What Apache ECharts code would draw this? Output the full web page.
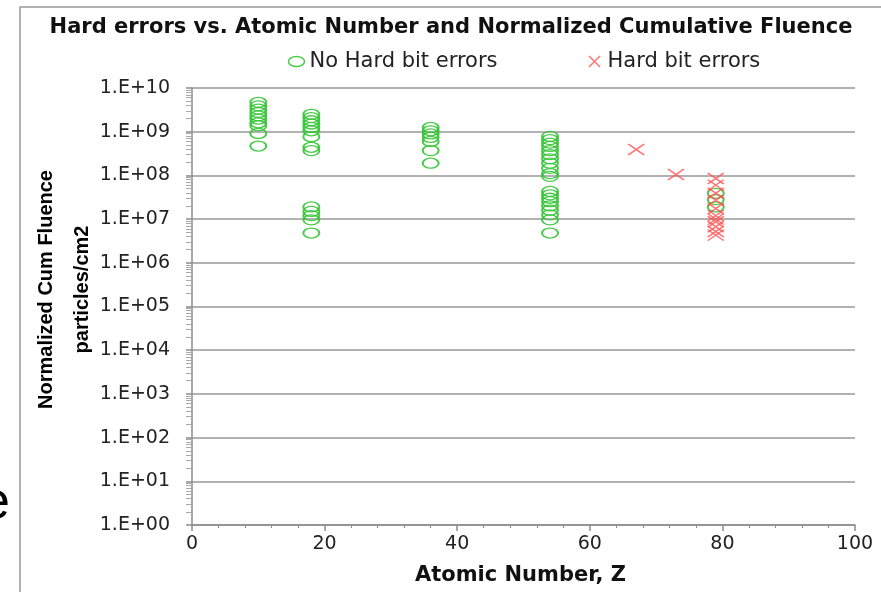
<!DOCTYPE html>
<html>
<head>
<meta charset="utf-8">
<script src="https://cdn.jsdelivr.net/npm/echarts@6/dist/echarts.min.js"></script>
<style>
html,body{margin:0;padding:0;background:#fff;}
#chart{width:881px;height:592px;}
</style>
</head>
<body>
<div id="chart"></div>
<script>
// ---- data ----
const chartTitle = 'Hard errors vs. Atomic Number and Normalized Cumulative Fluence';
const seriesNames = ['No Hard bit errors', 'Hard bit errors'];
const xAxisName = 'Atomic Number, Z';
const yAxisName = 'Normalized Cum Fluence\nparticles/cm2';
const yTickLabels = ['1.E+00','1.E+01','1.E+02','1.E+03','1.E+04','1.E+05','1.E+06','1.E+07','1.E+08','1.E+09','1.E+10'];

// No hard bit errors: atomic number and fluence values
const noHardZ = [10, 18, 36, 54, 79];
const noHardZ10 = [4.7e9, 3.9e9, 3.3e9, 2.75e9, 2.3e9, 1.95e9, 1.6e9, 1.37e9, 9.1e8, 4.7e8];
const noHardZ18 = [2.5e9, 2.1e9, 1.78e9, 1.5e9, 1.25e9, 1.05e9, 7.7e8, 4.4e8, 3.7e8, 1.9e7, 1.5e7, 1.2e7, 9.6e6, 4.8e6];
const noHardZ36 = [1.25e9, 1.05e9, 8.9e8, 7.4e8, 6.0e8, 3.7e8, 1.9e8];
const noHardZ54 = [7.8e8, 6.6e8, 5.5e8, 4.6e8, 3.7e8, 3.0e8, 2.4e8, 1.9e8, 1.45e8, 1.1e8, 9.5e7,
                   4.3e7, 3.6e7, 3.0e7, 2.5e7, 2.0e7, 1.6e7, 1.25e7, 9.6e6, 4.8e6];
const noHardZ79 = [3.9e7, 2.8e7, 1.9e7];

// Hard bit errors
const hardZ = [67, 73, 79];
const hardZ67 = [3.9e8];
const hardZ73 = [1.05e8];
const hardZ79 = [8.5e7, 6.0e7, 3.9e7, 2.7e7, 1.75e7, 1.2e7, 1.0e7, 8.7e6, 6.7e6, 5.2e6, 4.3e6];

function pairs(z, vals) { return vals.map(v => [z, v]); }
const noHardData = [].concat(
  pairs(noHardZ[0], noHardZ10), pairs(noHardZ[1], noHardZ18), pairs(noHardZ[2], noHardZ36),
  pairs(noHardZ[3], noHardZ54), pairs(noHardZ[4], noHardZ79));
const hardData = [].concat(pairs(hardZ[0], hardZ67), pairs(hardZ[1], hardZ73), pairs(hardZ[2], hardZ79));

const GREEN = '#33c433';
const RED = '#ff5252';
const XPATH = 'path://M0,0L10,10M10,0L0,10';
const OPATH = 'path://M0,5A8,5 0 1,0 16,5A8,5 0 1,0 0,5Z';

const chart = echarts.init(document.getElementById('chart'), null, {renderer: 'canvas'});
chart.setOption({
  animation: false,
  backgroundColor: '#fff',
  title: {
    text: chartTitle,
    left: 446, top: 12, textAlign: 'center',
    textStyle: {fontFamily: 'DejaVu Sans', fontWeight: 'bold', fontSize: 21, color: '#111'}
  },
  legend: {
    left: 281, top: 46,
    itemWidth: 16, itemHeight: 11, itemGap: 89,
    textStyle: {fontFamily: 'DejaVu Sans', fontSize: 21, color: '#222'},
    data: [
      {name: seriesNames[0], icon: OPATH, itemStyle: {color: 'none', borderColor: GREEN, borderWidth: 1.5}},
      {name: seriesNames[1], icon: XPATH, itemStyle: {color: 'none', borderColor: RED, borderWidth: 1.5}}
    ]
  },
  grid: {left: 192, right: 26, top: 88, bottom: 67, containLabel: false},
  xAxis: {
    type: 'value', min: 0, max: 100, interval: 20,
    name: xAxisName, nameLocation: 'middle', nameGap: 40, nameMoveOverlap: false,
    nameTextStyle: {fontFamily: 'DejaVu Sans', fontWeight: 'bold', fontSize: 21, color: '#111', padding: [0,6,0,0]},
    axisLine: {show: true, lineStyle: {color: '#8c8c8c', width: 1.5}},
    axisTick: {show: true, length: 6, lineStyle: {color: '#8c8c8c', width: 1.5}},
    minorTick: {show: true, splitNumber: 5, length: 3, lineStyle: {color: '#8c8c8c'}},
    axisLabel: {fontFamily: 'DejaVu Sans', fontSize: 19, color: '#222', margin: 10},
    splitLine: {show: false}
  },
  yAxis: {
    type: 'log', logBase: 10, min: 1, max: 1e10, interval: 1,
    name: yAxisName, nameLocation: 'middle', nameGap: 92, nameMoveOverlap: false,
    nameTextStyle: {fontFamily: "'Liberation Sans', sans-serif",
      fontWeight: 'bold', fontSize: 20, color: '#000', lineHeight: 36, align: 'center', padding: [0,0,0,34]},
    axisLine: {show: true, lineStyle: {color: '#8c8c8c', width: 1.5}},
    axisTick: {show: true, length: 6, lineStyle: {color: '#8c8c8c', width: 1.5}},
    minorTick: {show: true, splitNumber: 9, length: 6, lineStyle: {color: '#aaa'}},
    axisLabel: {
      fontFamily: 'DejaVu Sans', fontSize: 19, color: '#222', margin: 22,
      formatter: function (v) { const e = Math.round(Math.log10(v)); return yTickLabels[e] || ''; }
    },
    splitLine: {show: true, lineStyle: {color: '#999', width: 1.5}}
  },
  graphic: [
    {type: 'rect', shape: {x: 20, y: 7, width: 900, height: 620}, style: {fill: 'none', stroke: '#999', lineWidth: 1.5}, silent: true},
    {type: 'text', x: -19, y: 504, style: {text: 'e', font: '52px "Liberation Sans"', fill: '#000', verticalAlign: 'middle'}, silent: true}
  ],
  series: [
    {
      name: seriesNames[0], type: 'scatter', data: noHardData,
      symbol: 'circle', symbolSize: [16, 10],
      itemStyle: {color: 'none', borderColor: GREEN, borderWidth: 1.6, opacity: 0.9},
      z: 2
    },
    {
      name: seriesNames[1], type: 'scatter', data: hardData,
      symbol: XPATH, symbolSize: [16, 11],
      itemStyle: {color: 'none', borderColor: RED, borderWidth: 1.6, opacity: 0.8},
      z: 3
    }
  ]
});
</script>
</body>
</html>
